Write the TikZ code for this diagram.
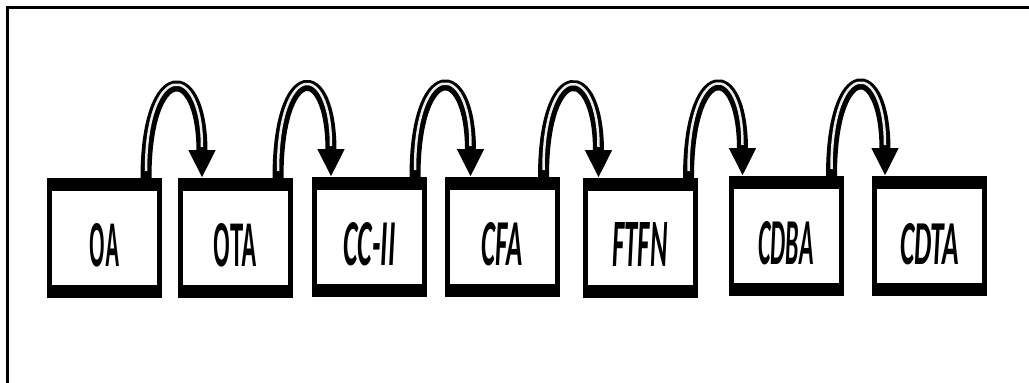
\documentclass[tikz,border=0pt]{standalone}
\usepackage{fontspec}
\usepackage{graphicx}
\usetikzlibrary{arrows.meta}
\newfontfamily\uprfont{Liberation Sans}
\newfontfamily\oblfont{Carlito}
\newcommand{\lbl}[3]{\resizebox{#1pt}{#2pt}{#3}}
\tikzset{
  blk/.style={draw, line width=5pt, minimum width=110pt, minimum height=115pt,
    inner sep=0pt, text height=57pt, text depth=0pt,
    path picture={
      \fill (path picture bounding box.north west) rectangle ([yshift=-10.5pt]path picture bounding box.north east);
      \fill (path picture bounding box.south west) rectangle ([yshift=10.5pt]path picture bounding box.south east);}},
  arch/.style={line width=11pt, -{Triangle[length=28pt,width=25pt]},
    postaction={draw=gray!15, line width=2.5pt, -, shorten >=31pt, shorten <=7pt}},
  frame/.style={line width=3pt}
}
\begin{document}
\begin{tikzpicture}[x=1pt,y=-1pt]
\useasboundingbox[fill=white] (0,0) rectangle (1029,383);
\draw[frame] (7,383) -- (7,7) -- (1029,7);

\node[blk] (oa)   at (104.5,238) {\lbl{30}{43}{\uprfont\bfseries OA}};
\node[blk] (ota)  at (235.5,238) {\lbl{44}{43}{\uprfont\bfseries OTA}};
\node[blk] (cc)   at (369.5,237) {\lbl{52}{43}{\oblfont\bfseries\itshape CC-II}};
\node[blk] (cfa)  at (502,237)   {\lbl{41}{43}{\oblfont\bfseries\itshape CFA}};
\node[blk] (ftfn) at (640,238)   {\lbl{55}{44}{\oblfont\bfseries\itshape FTFN}};
\node[blk] (cdba) at (786,236)   {\lbl{55}{43}{\oblfont\bfseries\itshape CDBA}};
\node[blk] (cdta) at (929.5,236) {\lbl{59}{41}{\oblfont\bfseries\itshape CDTA}};

\draw[arch] ([xshift=-16pt]oa.north east)   .. controls +(0,-118) and +(0,-118) .. ([xshift=24pt]ota.north west);
\draw[arch] ([xshift=-15pt]ota.north east)  .. controls +(0,-118) and +(0,-118) .. ([xshift=19pt]cc.north west);
\draw[arch] ([xshift=-12pt]cc.north east)   .. controls +(0,-118) and +(0,-118) .. ([xshift=26pt]cfa.north west);
\draw[arch] ([xshift=-16pt]cfa.north east)  .. controls +(0,-118) and +(0,-118) .. ([xshift=16pt]ftfn.north west);
\draw[arch] ([xshift=-9pt]ftfn.north east)  .. controls +(0,-118) and +(0,-118) .. ([xshift=14pt]cdba.north west);
\draw[arch] ([xshift=-12pt]cdba.north east) .. controls +(0,-118) and +(0,-118) .. ([xshift=13pt]cdta.north west);
\end{tikzpicture}
\end{document}
